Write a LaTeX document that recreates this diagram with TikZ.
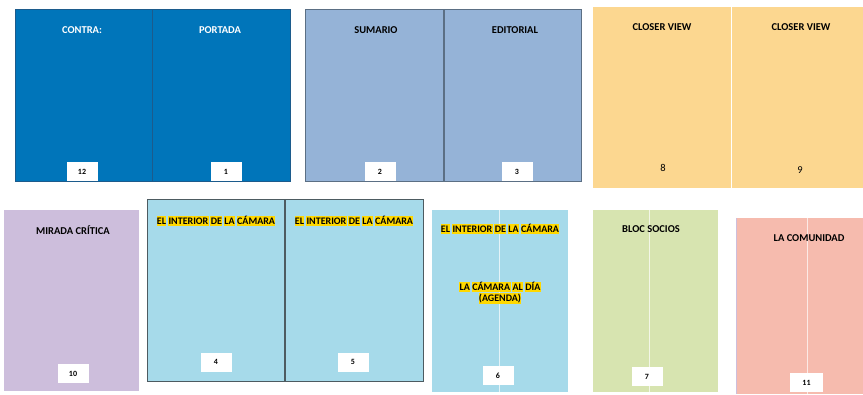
\documentclass[tikz,border=0pt]{standalone}
\usepackage{fontspec}
\setmainfont{Carlito}
\usetikzlibrary{positioning}
\definecolor{coverblue}{HTML}{0075BA}
\definecolor{coverline}{HTML}{1C5B8C}
\definecolor{steelpage}{HTML}{95B3D7}
\definecolor{steelline}{HTML}{5B6F84}
\definecolor{closerpage}{HTML}{FCD790}
\definecolor{miradapage}{HTML}{CDBEDC}
\definecolor{camarapage}{HTML}{A6DAEA}
\definecolor{camaraline}{HTML}{4D5B61}
\definecolor{sociospage}{HTML}{D7E4B0}
\definecolor{comunpage}{HTML}{F6BBAE}
\definecolor{camyellow}{HTML}{FFD800}
\newcommand{\hlw}[1]{{\setlength{\fboxsep}{0.4pt}\colorbox{camyellow}{\vphantom{ÁQ}#1}}}

\begin{document}
\begin{tikzpicture}[x=1pt,y=-1pt]
\useasboundingbox (0,0) rectangle (863,394);
\tikzstyle{page}=[rectangle,
			anchor=north west,
			inner sep=0pt,
			outer sep=0pt
			]
\tikzstyle{title}=[inner sep=0pt,
			font=\bfseries\fontsize{10.5}{11}\selectfont
			]
\tikzstyle{hltitle}=[inner sep=0pt,
			font=\bfseries\fontsize{10}{11}\selectfont
			]
\tikzstyle{numbox}=[rectangle,
			fill=white,
			minimum width=31pt,
			minimum height=19pt,
			inner sep=0pt,
			font=\bfseries\fontsize{8}{9}\selectfont
			]

% portada y contra
\node[page, fill=coverblue, draw=coverline, minimum width=137pt, minimum height=172pt] (contra) at (15,9) {};
\node[page, fill=coverblue, draw=coverline, minimum width=138pt, minimum height=172pt] (portada) at (152,9) {};
\draw[coverline, line width=1pt] (contra.north east) -- (contra.south east);
\node[title, text=white] (contratit) at (82,30) {CONTRA:};
\node[title, text=white] (portadatit) at (220,30) {PORTADA};
\node[numbox] (n12) at (82,171.5) {12};
\node[numbox] (n1) at (226,171.5) {1};

% sumario y editorial
\node[page, fill=steelpage, draw=steelline, minimum width=139pt, minimum height=172pt] (sumario) at (305,9) {};
\node[page, fill=steelpage, draw=steelline, minimum width=137pt, minimum height=172pt] (editorial) at (444,9) {};
\draw[steelline, line width=1.5pt] (sumario.north east) -- (sumario.south east);
\node[title] (sumariotit) at (376,30) {SUMARIO};
\node[title] (editorialtit) at (515,30) {EDITORIAL};
\node[numbox] (n2) at (380,171.5) {2};
\node[numbox] (n3) at (517,171.5) {3};

% closer view
\node[page, fill=closerpage, minimum width=138pt, minimum height=181pt] (closerA) at (593,7) {};
\node[page, fill=closerpage, minimum width=132pt, minimum height=181pt] (closerB) at (731,7) {};
\draw[white, line width=0.8pt] (closerA.north east) -- (closerA.south east);
\node[title] (closerAtit) at (662,27) {CLOSER VIEW};
\node[title] (closerBtit) at (801,27) {CLOSER VIEW};
\node[inner sep=0pt, font=\fontsize{10.5}{11}\selectfont] (n8) at (663,168) {8};
\node[inner sep=0pt, font=\fontsize{10.5}{11}\selectfont] (n9) at (800,170) {9};

% mirada critica
\node[page, fill=miradapage, minimum width=135pt, minimum height=181pt] (mirada) at (4,210) {};
\node[title] (miradatit) at (73,230) {MIRADA CRÍTICA};
\node[numbox] (n10) at (73,373.5) {10};

% el interior de la camara
\node[page, fill=camarapage, draw=camaraline, minimum width=138pt, minimum height=182pt] (interiorA) at (147,199) {};
\node[page, fill=camarapage, draw=camaraline, minimum width=138pt, minimum height=182pt] (interiorB) at (285,199) {};
\draw[camaraline, line width=1.5pt] (interiorA.north east) -- (interiorA.south east);
\node[hltitle] (interiorAtit) at (216,221) {\hlw{EL}\,\hlw{INTERIOR}\,\hlw{DE}\,\hlw{LA}\,\hlw{CÁMARA}};
\node[hltitle] (interiorBtit) at (354,221) {\hlw{EL}\,\hlw{INTERIOR}\,\hlw{DE}\,\hlw{LA}\,\hlw{CÁMARA}};
\node[numbox] (n4) at (216,362) {4};
\node[numbox] (n5) at (353,362) {5};

\node[page, fill=camarapage, minimum width=136pt, minimum height=182pt] (interiorC) at (432,210) {};
\draw[white, opacity=0.7, line width=0.6pt] ([xshift=-1pt]interiorC.north) -- ([xshift=-1pt]interiorC.south);
\node[hltitle] (interiorCtit) at (500,229) {\hlw{EL}\,\hlw{INTERIOR}\,\hlw{DE}\,\hlw{LA}\,\hlw{CÁMARA}};
\node[hltitle] (agendatit) at (500,287) {\hlw{LA}\,\hlw{CÁMARA}\,\hlw{AL}\,\hlw{DÍA}};
\node[hltitle, below=0.5pt of agendatit] (agendasub) {\hlw{(AGENDA)}};
\node[numbox] (n6) at (498,375.5) {6};

% bloc socios
\node[page, fill=sociospage, minimum width=125pt, minimum height=182pt] (bloc) at (593,210) {};
\draw[white, opacity=0.7, line width=0.6pt] ([xshift=-6pt]bloc.north) -- ([xshift=-6pt]bloc.south);
\node[title] (bloctit) at (651,229) {BLOC SOCIOS};
\node[numbox] (n7) at (647,376.5) {7};

% la comunidad
\node[page, fill=comunpage, minimum width=127pt, minimum height=176pt] (comunidad) at (736,218) {};
\draw[miradapage, line width=1pt] ([xshift=0.5pt]comunidad.north west) -- ([xshift=0.5pt]comunidad.south west);
\draw[white, opacity=0.7, line width=0.6pt] ([xshift=7.5pt]comunidad.north) -- ([xshift=7.5pt]comunidad.south);
\node[title] (comunidadtit) at (809,238) {LA COMUNIDAD};
\node[numbox, minimum width=33pt] (n11) at (806.5,382.5) {11};

\end{tikzpicture}
\end{document}
